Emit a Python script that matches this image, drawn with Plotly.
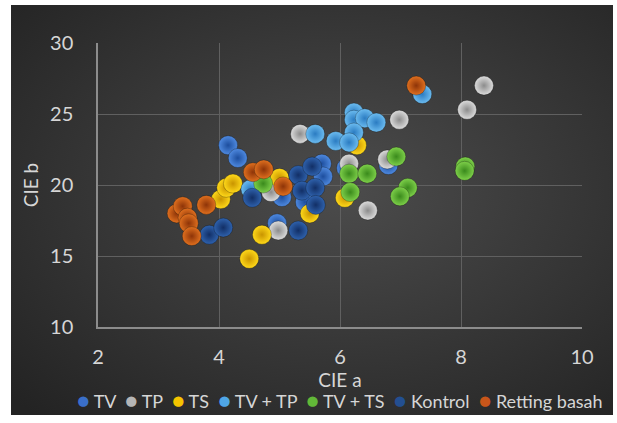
import base64
import plotly.graph_objects as go

# ---- data (CIE a, CIE b) ----
TV_a = [4.15, 4.31, 5.70, 5.72, 5.04, 5.42, 4.96, 6.10, 6.80]
TV_b = [22.8, 21.9, 21.5, 20.6, 19.15, 18.8, 17.3, 21.2, 21.4]

TP_a = [5.34, 6.98, 8.38, 8.10, 6.15, 6.78, 6.46, 4.86, 4.98]
TP_b = [23.6, 24.6, 27.0, 25.3, 21.5, 21.8, 18.2, 19.5, 16.8]

TS_a = [6.28, 6.08, 5.50, 4.71, 4.50, 5.00, 4.03, 4.12, 4.23]
TS_b = [22.8, 19.1, 18.0, 16.5, 14.8, 20.5, 19.0, 19.8, 20.1]

TVTP_a = [7.36, 5.59, 6.23, 6.23, 6.41, 6.60, 6.23, 5.93, 6.15, 4.52]
TVTP_b = [26.4, 23.6, 25.1, 24.6, 24.7, 24.4, 23.7, 23.1, 23.0, 19.7]

TVTS_a = [6.15, 6.45, 6.93, 7.12, 6.99, 8.07, 8.06, 6.17, 4.73]
TVTS_b = [20.8, 20.8, 22.0, 19.8, 19.2, 21.3, 21.0, 19.5, 20.1]

K_a = [5.31, 5.54, 5.37, 5.59, 5.60, 4.55, 5.31, 3.84, 4.07]
K_b = [20.7, 21.3, 19.6, 19.8, 18.6, 19.1, 16.8, 16.5, 17.0]

RB_a = [7.26, 4.56, 4.74, 5.06, 3.79, 3.30, 3.40, 3.48, 3.50, 3.55]
RB_b = [27.0, 20.9, 21.1, 19.9, 18.6, 18.0, 18.5, 17.7, 17.3, 16.4]

series_names = ["TV", "TP", "TS", "TV + TP", "TV + TS", "Kontrol", "Retting basah"]
series_a = [TV_a, TP_a, TS_a, TVTP_a, TVTS_a, K_a, RB_a]
series_b = [TV_b, TP_b, TS_b, TVTP_b, TVTS_b, K_b, RB_b]
center_colors = ["#4f8ae0", "#dcdcdc", "#ffd91a", "#6cbcf0", "#7ed04a", "#2f62ad", "#e0701f"]
edge_colors = ["#1d4e9e", "#8c8c8c", "#c99400", "#2b7cc2", "#3a8a1c", "#122f66", "#8e3408"]
legend_colors = ["#3a6fc9", "#b5b5b5", "#f5c400", "#4fa6e6", "#62b838", "#234f91", "#c8561a"]

x_ticks = [2, 4, 6, 8, 10]
y_ticks = [10, 15, 20, 25, 30]

W, H = 617, 423
L, R, T, B = 98, 35, 43, 96
pw, ph = W - L - R, H - T - B

fig = go.Figure()
for name, a, b, c, e in zip(series_names, series_a, series_b, center_colors, edge_colors):
    fig.add_trace(go.Scatter(
        x=a, y=b, mode="markers", name=name, showlegend=False,
        marker=dict(size=19, color=c, gradient=dict(type="radial", color=e),
                    line=dict(width=0.6, color="rgba(0,0,0,0.45)")),
    ))

# radial gradient background for the chart area
svg = (
    '<svg xmlns="http://www.w3.org/2000/svg" width="602" height="410">'
    '<defs><radialGradient id="g" cx="0.55" cy="0.45" r="0.75">'
    '<stop offset="0" stop-color="#4c4c4c"/><stop offset="1" stop-color="#232323"/>'
    '</radialGradient></defs><rect width="602" height="410" fill="url(#g)"/></svg>'
)
src = "data:image/svg+xml;base64," + base64.b64encode(svg.encode()).decode()
bx0, bx1, by0, by1 = 11, 613, 5, 415
fig.add_layout_image(dict(
    source=src, xref="paper", yref="paper",
    x=(bx0 - L) / pw, y=(H - B - by0) / ph,
    sizex=(bx1 - bx0) / pw, sizey=(by1 - by0) / ph,
    xanchor="left", yanchor="top", sizing="stretch", layer="below",
))

font_color = "#d6d6d6"

# compact one-row legend built from the series names and colours
parts = []
for name, lc in zip(series_names, legend_colors):
    parts.append(f'<span style="color:{lc};font-size:21px">●</span>&nbsp;{name}')
legend_text = "&nbsp;&nbsp;".join(parts)
fig.add_annotation(
    text=legend_text, xref="paper", yref="paper",
    x=(340 - L) / pw, y=(H - B - 399) / ph, xanchor="center", yanchor="middle",
    showarrow=False, font=dict(size=18, color=font_color, family="Lato, sans-serif"),
)

fig.update_layout(
    width=W, height=H,
    margin=dict(l=L, r=R, t=T, b=B, autoexpand=False),
    paper_bgcolor="white",
    plot_bgcolor="rgba(0,0,0,0)",
    font=dict(family="Lato, Open Sans, sans-serif", color=font_color, size=20),
    showlegend=False,
    xaxis=dict(range=[2, 10], tickvals=x_ticks, showgrid=True, gridcolor="#606060",
               gridwidth=1, showline=True, linecolor="#8c8c8c", linewidth=1.5,
               zeroline=False, ticks="", ticklabelstandoff=11,
               title=dict(text="CIE a", standoff=0, font=dict(size=19, color=font_color))),
    yaxis=dict(range=[10, 30], tickvals=y_ticks, showgrid=True, gridcolor="#606060",
               gridwidth=1, showline=True, linecolor="#8c8c8c", linewidth=1.5,
               zeroline=False, ticks="", ticklabelstandoff=19,
               title=dict(text="CIE b", standoff=6, font=dict(size=19, color=font_color))),
)
fig.write_html("out.html")
